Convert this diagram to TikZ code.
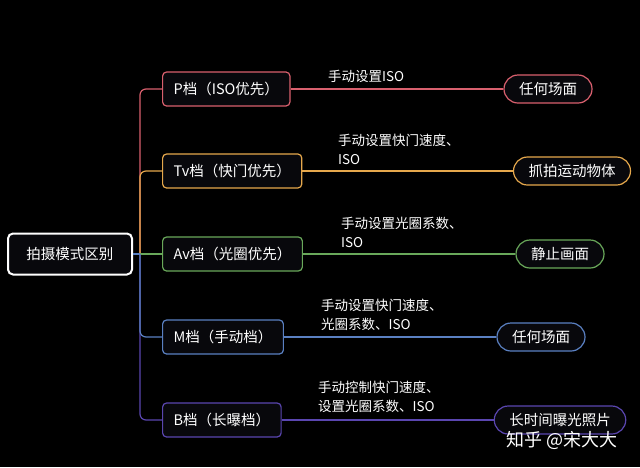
\documentclass[tikz,border=0pt]{standalone}
\usepackage{fontspec}
\setmainfont{Noto Sans CJK SC}

\definecolor{boxbg}{HTML}{08080C}
\definecolor{colP}{HTML}{D9606E}
\definecolor{colTv}{HTML}{E6A84C}
\definecolor{colAv}{HTML}{69A85A}
\definecolor{colM}{HTML}{5A80C2}
\definecolor{colB}{HTML}{5A46B0}

\tikzset{
  branch/.style={draw=#1, line width=1.2pt, rounded corners=4pt, fill=boxbg,
    text=white, anchor=west, minimum height=34pt, inner xsep=11pt},
  leaf/.style={draw=#1, line width=1.2pt, rounded corners=14pt, fill=boxbg,
    text=white, minimum height=28pt, inner xsep=15pt},
  link/.style={draw=#1, line width=1.2pt, rounded corners=6pt},
  note/.style={anchor=west, align=left, inner sep=0pt, text=white,
    font=\fontsize{13.5}{19}\selectfont},
}

\begin{document}
\begin{tikzpicture}[x=1pt, y=-1pt, font=\fontsize{14.5}{17}\selectfont]
  \fill[black] (0,0) rectangle (640,467);

  \coordinate (J) at (140,254);

  \node[draw=white, line width=2pt, rounded corners=5pt, fill=boxbg, text=white,
    minimum width=124pt, minimum height=41pt] (root) at (70,254) {拍摄模式区别};

  \node[branch=colP]  (P)  at (162,89)  {P档（ISO优先）};
  \node[branch=colTv] (Tv) at (162,171) {Tv档（快门优先）};
  \node[branch=colAv] (Av) at (162,254) {Av档（光圈优先）};
  \node[branch=colM]  (M)  at (162,337) {M档（手动档）};
  \node[branch=colB]  (B)  at (162,420) {B档（长曝档）};

  \node[leaf=colP]  (Puse)  at (548,89)  {任何场面};
  \node[leaf=colTv] (Tvuse) at (572,171) {抓拍运动物体};
  \node[leaf=colAv] (Avuse) at (560,254) {静止画面};
  \node[leaf=colM]  (Muse)  at (541,337) {任何场面};
  \node[leaf=colB]  (Buse)  at (560,420) {长时间曝光照片};

  \draw[link=colP]  (J) |- (P.west);
  \draw[link=colTv] (J) |- (Tv.west);
  \draw[link=colAv] (J) -- (Av.west);
  \draw[link=colB]  (J) |- (B.west);
  \draw[link=colM]  (J) |- (M.west);
  \draw[link=colM]  (root.east) -- (J);

  \draw[link=colP]  (P.east)  -- (Puse.west);
  \draw[link=colTv] (Tv.east) -- (Tvuse.west);
  \draw[link=colAv] (Av.east) -- (Avuse.west);
  \draw[link=colM]  (M.east)  -- (Muse.west);
  \draw[link=colB]  (B.east)  -- (Buse.west);

  \node[note] (Pnote)  at (328,76)    {手动设置ISO};
  \node[note] (Tvnote) at (338,149.5) {手动设置快门速度、\\ISO};
  \node[note] (Avnote) at (341,232.5) {手动设置光圈系数、\\ISO};
  \node[note] (Mnote)  at (321,315)   {手动设置快门速度、\\光圈系数、ISO};
  \node[note] (Bnote)  at (318,397)   {手动控制快门速度、\\设置光圈系数、ISO};

  \node[anchor=west, inner sep=0pt, text=white, font=\fontsize{18}{20}\selectfont]
    (mark) at (506,440) {知乎 @宋大大};
\end{tikzpicture}
\end{document}
